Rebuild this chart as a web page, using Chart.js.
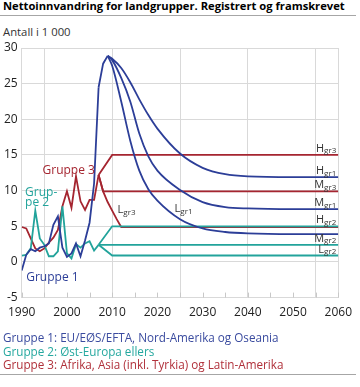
<!DOCTYPE html>
<html>
<head>
<meta charset="utf-8">
<script src="https://cdn.jsdelivr.net/npm/chart.js@4"></script>
<style>
  body { margin: 0; background: #fff; font-family: 'Open Sans', sans-serif; }
  #wrap { position: relative; width: 360px; height: 387px; overflow: hidden; }
  #chart { position: absolute; left: 0; top: 0; }
  .txt { position: absolute; left: 3px; white-space: nowrap; font-size: 11.7px; line-height: 13.5px; }
  .rule { position: absolute; left: 0; width: 356px; height: 1px; background: #a6a6a6; }
</style>
</head>
<body>
<div id="wrap">
  <div class="txt" style="top:-1px;font-size:11.2px;font-weight:bold;color:#000">Nettoinnvandring for landgrupper. Registrert og framskrevet</div>
  <div class="rule" style="top:15px"></div>
  <div class="txt" style="top:25px;font-size:11.3px;color:#333">Antall i 1 000</div>
  <canvas id="chart" width="360" height="387"></canvas>
  <div class="txt" style="top:330.7px;color:#3a4b9f">Gruppe 1: EU/EØS/EFTA, Nord-Amerika og Oseania</div>
  <div class="txt" style="top:344.5px;color:#25a89f">Gruppe 2: Øst-Europa ellers</div>
  <div class="txt" style="top:358px;color:#b0303a">Gruppe 3: Afrika, Asia (inkl. Tyrkia) og Latin-Amerika</div>
  <div class="rule" style="top:374px"></div>
</div>
<script>
// Registered figures (1 000 persons)
const histYears = [1990, 1991, 1992, 1993, 1994, 1995, 1996, 1997, 1998, 1999,
                   2000, 2001, 2002, 2003, 2004, 2005, 2006, 2007];
const group1Hist = [-1.2, 1.0, 1.8, 1.5, 2.0, 2.2, 2.6, 5.2, 6.4, 2.0,
                    0.7, 1.2, 2.6, 0.8, 3.0, 5.5, 11.0, 24.5];
const group2Hist = [0.9, 1.0, 1.9, 7.2, 3.3, 2.4, 0.8, 0.8, 1.5, 7.8,
                    1.2, 0.5, 2.5, 2.0, 2.6, 2.9, 1.6, 2.4];
const group3Hist = [4.9, 4.7, 3.3, 1.9, 1.5, 1.9, 2.7, 3.4, 4.5, 7.8,
                    9.9, 7.6, 12.0, 8.5, 7.3, 8.7, 8.7, 12.2];

// Group 1 keeps rising to the 2009 peak, then the three paths
const g1RiseYears = [2007, 2008, 2009];
const g1Rise = [24.5, 27.8, 28.9];
const g1Years = [2009, 2010, 2012, 2014, 2016, 2018, 2020, 2025, 2030, 2035, 2040, 2050, 2060];
const g1High = [28.9, 28.5, 27.2, 25.2, 22.8, 20.6, 18.7, 15.2, 13.2, 12.3, 12.0, 11.9, 11.9];
const g1Mid  = [28.9, 28.3, 25.8, 22.5, 18.0, 14.8, 12.8, 10.1, 8.4, 7.7, 7.5, 7.4, 7.4];
const g1Low  = [28.9, 27.5, 22.5, 17.0, 12.8, 10.2, 8.6, 6.0, 4.7, 4.2, 4.0, 3.9, 3.9];

// Group 2 paths
const g2HighYears = [2007, 2010, 2060];
const g2High = [2.4, 5.0, 5.0];
const g2MidYears = [2007, 2060];
const g2Mid = [2.4, 2.4];
const g2LowYears = [2007, 2010, 2060];
const g2Low = [2.4, 0.9, 0.9];

// Group 3 paths
const g3HighYears = [2007, 2010, 2060];
const g3High = [12.2, 15.0, 15.0];
const g3MidYears = [2007, 2008, 2060];
const g3Mid = [12.2, 9.9, 9.9];
const g3LowYears = [2007, 2008, 2009, 2010, 2011, 2012, 2060];
const g3Low = [12.2, 9.9, 8.4, 7.2, 6.0, 4.9, 4.9];

const blue = '#2c3e98';
const teal = '#22a39b';
const red = '#a52530';

function pts(xs, ys) {
    return xs.map((x, i) => ({ x: x, y: ys[i] }));
}

function line(xs, ys, color, curved) {
    return {
        data: pts(xs, ys),
        borderColor: color,
        borderWidth: 1.8,
        pointRadius: 0,
        fill: false,
        tension: 0,
        cubicInterpolationMode: curved ? 'monotone' : 'default'
    };
}

// Scenario labels at the line ends and inside the plot
const endLabels = [
    { main: 'H', sub: 'gr3', value: 15.0 },
    { main: 'H', sub: 'gr1', value: 11.9 },
    { main: 'M', sub: 'gr3', value: 9.9 },
    { main: 'M', sub: 'gr1', value: 7.4 },
    { main: 'H', sub: 'gr2', value: 5.0 },
    { main: 'M', sub: 'gr2', value: 2.4 },
    { main: 'L', sub: 'gr2', value: 0.9 }
];
const innerLabels = [
    { main: 'L', sub: 'gr3', year: 2011.2, value: 6.8 },
    { main: 'L', sub: 'gr1', year: 2023.8, value: 7.0 }
];
const groupLabels = [
    { text: 'Gruppe 3', color: red, year: 1994.6, value: 12.3 },
    { text: 'Grup-', color: teal, year: 1990.75, value: 9.25 },
    { text: 'pe 2', color: teal, year: 1990.75, value: 7.85 },
    { text: 'Gruppe 1', color: blue, year: 1991.0, value: -2.65 }
];

const decor = {
    id: 'decor',
    beforeDatasetsDraw(chart) {
        const ctx = chart.ctx;
        const xs = chart.scales.x;
        const bottom = chart.chartArea.bottom;
        ctx.save();
        ctx.strokeStyle = '#c8c8c8';
        ctx.lineWidth = 1;
        for (let yr = 1990; yr <= 2060; yr += 5) {
            const px = Math.round(xs.getPixelForValue(yr)) + 0.5;
            ctx.beginPath();
            ctx.moveTo(px, bottom - 5);
            ctx.lineTo(px, bottom);
            ctx.stroke();
        }
        ctx.restore();
    },
    afterDatasetsDraw(chart) {
        const ctx = chart.ctx;
        const xs = chart.scales.x;
        const ys = chart.scales.y;
        ctx.save();
        ctx.textBaseline = 'alphabetic';

        function drawSub(item, left, base) {
            ctx.fillStyle = '#333';
            ctx.font = '11px "Open Sans"';
            ctx.fillText(item.main, left, base);
            const w = ctx.measureText(item.main).width;
            ctx.font = '8px "Open Sans"';
            ctx.fillText(item.sub, left + w, base + 1.5);
        }
        function subWidth(item) {
            ctx.font = '11px "Open Sans"';
            const w = ctx.measureText(item.main).width;
            ctx.font = '8px "Open Sans"';
            return w + ctx.measureText(item.sub).width;
        }

        const right = xs.getPixelForValue(2060) - 2;
        endLabels.forEach(l => {
            drawSub(l, right - subWidth(l), ys.getPixelForValue(l.value) - 3);
        });
        innerLabels.forEach(l => {
            drawSub(l, xs.getPixelForValue(l.year), ys.getPixelForValue(l.value));
        });

        ctx.font = '12px "Open Sans"';
        groupLabels.forEach(l => {
            ctx.fillStyle = l.color;
            ctx.fillText(l.text, xs.getPixelForValue(l.year), ys.getPixelForValue(l.value));
        });
        ctx.restore();
    }
};

Chart.defaults.font.family = "'Open Sans', sans-serif";
Chart.defaults.color = '#222';

new Chart(document.getElementById('chart'), {
    type: 'line',
    data: {
        datasets: [
            line(histYears, group1Hist, blue, false),
            line(g1RiseYears, g1Rise, blue, false),
            line(g1Years, g1High, blue, true),
            line(g1Years, g1Mid, blue, true),
            line(g1Years, g1Low, blue, true),
            line(histYears, group2Hist, teal, false),
            line(g2HighYears, g2High, teal, false),
            line(g2MidYears, g2Mid, teal, false),
            line(g2LowYears, g2Low, teal, false),
            line(histYears, group3Hist, red, false),
            line(g3HighYears, g3High, red, false),
            line(g3MidYears, g3Mid, red, false),
            line(g3LowYears, g3Low, red, false)
        ]
    },
    options: {
        responsive: false,
        animation: false,
        layout: { padding: { left: 0, right: 14.5, top: 48, bottom: 64.4 } },
        plugins: {
            legend: { display: false },
            tooltip: { enabled: false }
        },
        scales: {
            x: {
                type: 'linear',
                min: 1990,
                max: 2060,
                afterFit: s => { s.height = 25; },
                border: { display: false },
                grid: {
                    drawTicks: false,
                    color: c => (c.tick && ((c.tick.value - 1995) % 15 === 0 || c.tick.value === 2060)) ? '#d9d9d9' : 'rgba(0,0,0,0)'
                },
                ticks: {
                    stepSize: 5,
                    autoSkip: false,
                    maxRotation: 0,
                    padding: 8,
                    font: { size: 12 },
                    callback: v => (v % 10 === 0 ? String(v) : '')
                }
            },
            y: {
                min: -5,
                max: 30,
                afterFit: s => { s.width = 21.5; },
                border: { color: '#d9d9d9' },
                grid: { drawTicks: false, color: '#d9d9d9' },
                ticks: {
                    stepSize: 5,
                    padding: 4,
                    font: { size: 12 }
                }
            }
        }
    },
    plugins: [decor]
});
</script>
</body>
</html>
